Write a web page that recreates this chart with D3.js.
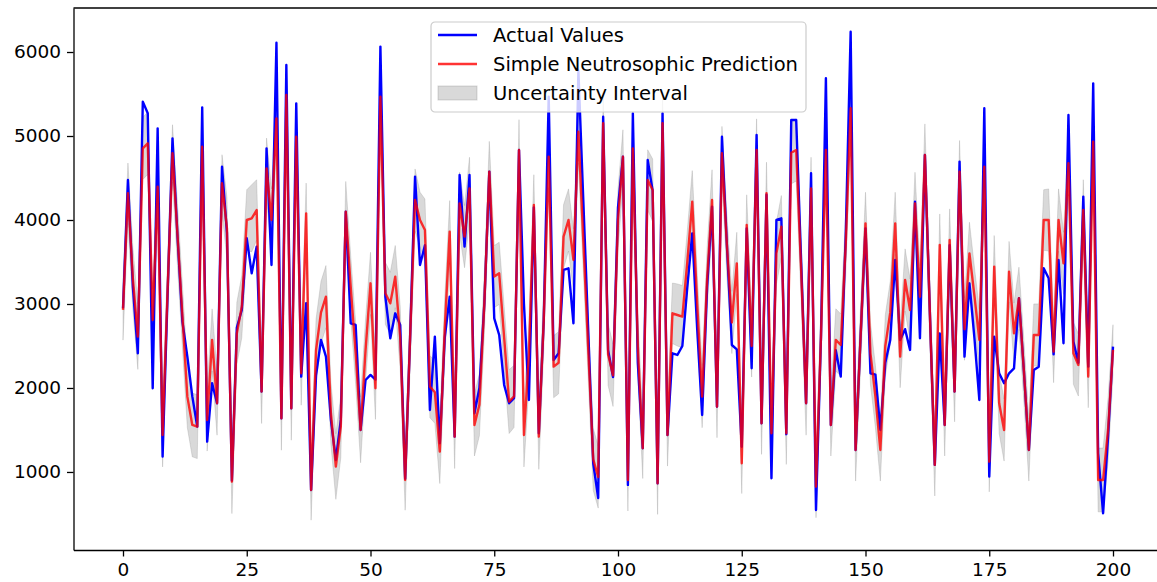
<!DOCTYPE html>
<html>
<head>
<meta charset="utf-8">
<script src="https://cdn.jsdelivr.net/npm/d3@7"></script>
<style>
body { margin: 0; background: #fff; }
text { font-family: "DejaVu Sans", sans-serif; }
</style>
</head>
<body>
<script>
// values, index 0..200
let actualValues = [
	2950, 4476, 3200, 2413, 5409, 5270, 1996, 5091, 1183, 3100,
	4972, 3814, 2790, 2373, 1900, 1540, 5341, 1361, 2056, 1818,
	4635, 3850, 900, 2720, 2929, 3782, 3365, 3683, 1957, 4853,
	3464, 6111, 1639, 5845, 1758, 5389, 2135, 3008, 786, 2150,
	2572, 2373, 1620, 1143, 1620, 4099, 2770, 2750, 1500, 2095,
	2155, 2100, 6064, 3087, 2592, 2889, 2750, 920, 2600, 4516,
	3464, 3700, 1738, 2611, 1342, 2600, 3087, 1421, 4536, 3683,
	4536, 1700, 2000, 3008, 4576, 2829, 2631, 2036, 1818, 1880,
	4834, 3000, 1857, 4150, 1460, 2810, 5468, 2333, 2413, 3405,
	3425, 2770, 5780, 4220, 2660, 1100, 690, 5230, 2450, 2130,
	4150, 4754, 846, 5270, 2300, 1282, 4714, 4350, 865, 5270,
	1440, 2413, 2393, 2500, 3200, 3841, 2700, 1679, 3200, 4159,
	1778, 4992, 3700, 2512, 2460, 1300, 3900, 2234, 5012, 1580,
	4300, 925, 4000, 4020, 1450, 5190, 5190, 3500, 1818, 4556,
	548, 2600, 5687, 1560, 2450, 2135, 3800, 6242, 1262, 2600,
	3900, 2175, 2160, 1500, 2300, 2570, 3524, 2572, 2700, 2453,
	4218, 2592, 4774, 2900, 1084, 2650, 1560, 3700, 1957, 4695,
	2373, 3246, 2600, 1857, 5330, 945, 2611, 2175, 2056, 2175,
	2234, 3068, 2200, 1262, 2214, 2254, 3425, 3306, 2400, 3524,
	2532, 5250, 2552, 2300, 4278, 2254, 5627, 1222, 508, 1421,
	2492
];
let predictedValues = [
	2930, 4318, 3300, 2611, 4853, 4913, 2810, 4397, 1440, 3150,
	4794, 3830, 2861, 1897, 1560, 1540, 4873, 1619, 2572, 1818,
	4437, 3900, 885, 2650, 2969, 4000, 4020, 4119, 1957, 4615,
	4000, 5210, 1639, 5488, 1758, 4992, 2175, 4079, 786, 2450,
	2900, 3087, 1700, 1064, 1540, 4099, 3207, 2413, 1500, 2450,
	3246, 1996, 5468, 3127, 3008, 3326, 2600, 905, 2600, 4238,
	4000, 3880, 2016, 1950, 1242, 2700, 3861, 1421, 4198, 3802,
	4377, 1560, 1800, 3008, 4576, 3326, 3365, 2600, 1838, 1900,
	4834, 1440, 2400, 4179, 1421, 2810, 4754, 2254, 2300, 3802,
	4000, 3524, 5050, 3750, 2450, 1150, 940, 5151, 2400, 2150,
	4000, 4754, 905, 4853, 2500, 1282, 4476, 4357, 865, 5151,
	1440, 2889, 2869, 2850, 3500, 4218, 3000, 1897, 3300, 4238,
	1778, 4794, 3700, 2780, 3484, 1103, 3940, 2500, 4834, 1580,
	4318, 1460, 3603, 3921, 1460, 4800, 4834, 3400, 1818, 4377,
	825, 2600, 4834, 1560, 2572, 2512, 3700, 5330, 1262, 2600,
	3960, 2413, 1900, 1262, 2500, 2900, 3960, 2373, 3286, 2929,
	4198, 3087, 4774, 2900, 1084, 3702, 1560, 3762, 1957, 4576,
	2700, 3603, 3100, 2572, 4635, 1123, 3445, 1818, 1500, 3385,
	2651, 3068, 2200, 1262, 2631, 2631, 4000, 4000, 2433, 4000,
	3484, 4675, 2413, 2274, 4119, 2135, 4933, 905, 905, 1500,
	2453
];
// half width of the grey interval around the prediction, read at each index
let intervalHalfWidth = [
	360, 360, 370, 390, 370, 370, 370, 370, 380, 370, 340, 370, 370, 370, 380, 380, 370, 370, 370, 380,
	340, 370, 380, 370, 370, 360, 400, 360, 380, 360, 370, 370, 380, 370, 380, 370, 380, 360, 360, 370,
	370, 370, 370, 390, 370, 360, 370, 370, 390, 370, 370, 370, 370, 370, 370, 370, 370, 360, 370, 370,
	330, 370, 370, 370, 380, 370, 370, 380, 370, 370, 370, 370, 370, 370, 360, 370, 370, 370, 380, 370,
	360, 380, 370, 360, 390, 370, 370, 370, 370, 380, 370, 370, 370, 370, 370, 370, 370, 370, 370, 370,
	370, 320, 370, 370, 370, 360, 360, 370, 370, 370, 370, 360, 370, 370, 370, 370, 370, 370, 370, 360,
	370, 320, 370, 370, 370, 360, 360, 370, 370, 370, 370, 370, 370, 370, 370, 370, 370, 370, 380, 370,
	370, 370, 370, 370, 370, 370, 370, 370, 370, 370, 370, 370, 370, 370, 370, 370, 370, 370, 370, 370,
	370, 370, 370, 380, 370, 370, 370, 370, 360, 370, 370, 370, 340, 370, 380, 360, 370, 360, 370, 360,
	360, 370, 370, 370, 370, 370, 360, 370, 370, 370, 370, 370, 370, 370, 360, 370, 380, 380, 380, 380,
	300
];
let timeIndex = d3.range(0, actualValues.length);

let xTicks = [0, 25, 50, 75, 100, 125, 150, 175, 200];
let yTicks = [1000, 2000, 3000, 4000, 5000, 6000];
let legendLabels = ["Actual Values", "Simple Neutrosophic Prediction", "Uncertainty Interval"];

let width = 1157, height = 582;
let plotLeft = 73.5, plotRight = 1162.5, plotTop = 8, plotBottom = 550;

let x = d3.scaleLinear().domain([-10, 210]).range([plotLeft, plotRight]);
let y = d3.scaleLinear().domain([71, 6524]).range([plotBottom, plotTop]);

let svg = d3.select("body").append("svg")
	.attr("width", width)
	.attr("height", height);

svg.append("defs").append("clipPath").attr("id", "plotclip")
	.append("rect")
	.attr("x", plotLeft).attr("y", plotTop)
	.attr("width", plotRight - plotLeft).attr("height", plotBottom - plotTop);

let plot = svg.append("g").attr("clip-path", "url(#plotclip)");

let band = d3.area()
	.x(function(d) { return x(d); })
	.y0(function(d, i) { return y(predictedValues[i] - intervalHalfWidth[i]); })
	.y1(function(d, i) { return y(predictedValues[i] + intervalHalfWidth[i]); });

let lineOf = function(values) {
	return d3.line()
		.x(function(d) { return x(d); })
		.y(function(d, i) { return y(values[i]); });
};

plot.append("path")
	.datum(timeIndex)
	.attr("d", band)
	.style("fill", "#808080")
	.style("fill-opacity", 0.3)
	.style("stroke", "#808080")
	.style("stroke-opacity", 0.3)
	.style("stroke-width", "0.8px");

plot.append("path")
	.datum(timeIndex)
	.attr("d", lineOf(actualValues))
	.style("fill", "none")
	.style("stroke", "#0000ff")
	.style("stroke-width", "2.4px")
	.style("stroke-linejoin", "round");

plot.append("path")
	.datum(timeIndex)
	.attr("d", lineOf(predictedValues))
	.style("fill", "none")
	.style("stroke", "#ff0000")
	.style("stroke-opacity", 0.8)
	.style("stroke-width", "2.4px")
	.style("stroke-linejoin", "round");

// axes
let xAxis = svg.append("g")
	.attr("transform", "translate(0," + plotBottom + ")")
	.call(d3.axisBottom(x).tickValues(xTicks).tickSize(6.5).tickSizeOuter(0).tickPadding(6));
let yAxis = svg.append("g")
	.attr("transform", "translate(" + plotLeft + ",0)")
	.call(d3.axisLeft(y).tickValues(yTicks).tickSize(6.5).tickSizeOuter(0).tickPadding(6).tickFormat(d3.format("d")));

[xAxis, yAxis].forEach(function(g) {
	g.selectAll("text").style("font-size", "18.5px").style("fill", "#000").attr("font-family", null);
	g.selectAll("line").style("stroke", "#000").style("stroke-width", "1.3px");
	g.select(".domain").style("stroke", "#000").style("stroke-width", "1.3px");
});

svg.append("line")
	.attr("x1", plotLeft).attr("x2", plotRight)
	.attr("y1", plotTop).attr("y2", plotTop)
	.style("stroke", "#000").style("stroke-width", "1.3px");

// legend
let legend = svg.append("g").attr("transform", "translate(431,22)");
legend.append("rect")
	.attr("width", 375).attr("height", 90)
	.attr("rx", 4).attr("ry", 4)
	.style("fill", "#fff").style("fill-opacity", 0.8)
	.style("stroke", "#cccccc").style("stroke-width", "1.2px");

let rowY = [13, 42, 71];
legend.append("line")
	.attr("x1", 7).attr("x2", 46).attr("y1", rowY[0]).attr("y2", rowY[0])
	.style("stroke", "#0000ff").style("stroke-width", "2.4px");
legend.append("line")
	.attr("x1", 7).attr("x2", 46).attr("y1", rowY[1]).attr("y2", rowY[1])
	.style("stroke", "#ff0000").style("stroke-opacity", 0.8).style("stroke-width", "2.4px");
legend.append("rect")
	.attr("x", 7).attr("y", rowY[2] - 7).attr("width", 39).attr("height", 14)
	.style("fill", "#808080").style("fill-opacity", 0.3)
	.style("stroke", "#808080").style("stroke-opacity", 0.3);

legend.selectAll("text.label")
	.data(legendLabels)
	.enter().append("text")
	.attr("class", "label")
	.attr("x", 62)
	.attr("y", function(d, i) { return rowY[i]; })
	.attr("dy", "0.35em")
	.style("font-size", "19.5px")
	.style("fill", "#000")
	.text(function(d) { return d; });
</script>
</body>
</html>
